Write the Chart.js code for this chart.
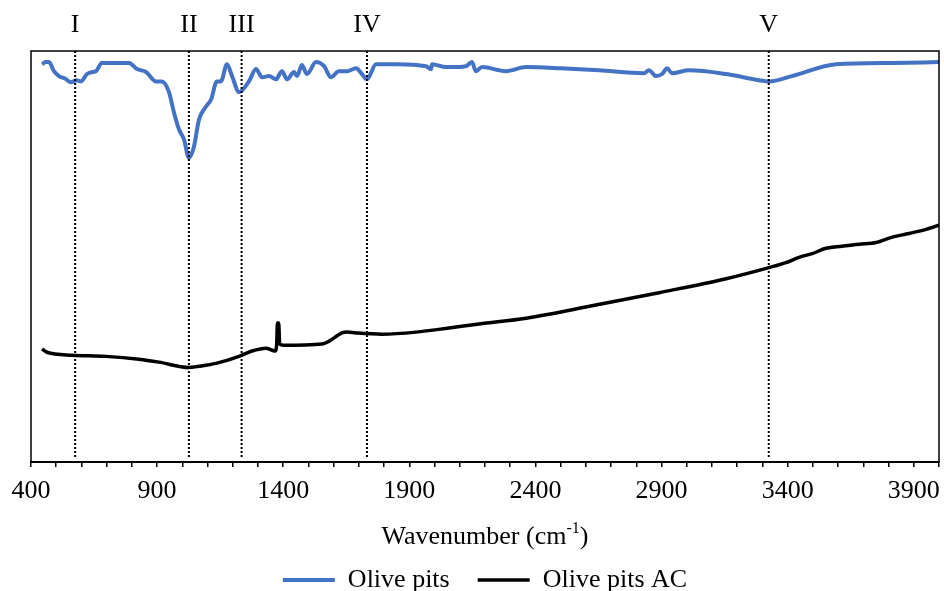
<!DOCTYPE html>
<html>
<head>
<meta charset="utf-8">
<script src="https://cdn.jsdelivr.net/npm/chart.js@4"></script>
<style>
  html, body { margin: 0; padding: 0; background: #fff; }
  #wrap { width: 944px; height: 591px; }
</style>
</head>
<body>
<div id="wrap"><canvas id="ftirChart" width="944" height="591"></canvas></div>
<script>
// Olive pits (raw) spectrum
const pitsWave = [444, 458, 471, 491, 511, 535, 559, 580, 598, 622, 645, 658, 681, 789, 820, 856, 896, 919, 947, 967, 987, 1007, 1026, 1046, 1066, 1094, 1114, 1137, 1153, 1177, 1197, 1225, 1264, 1292, 1316, 1344, 1371, 1395, 1415, 1443, 1455, 1474, 1494, 1530, 1562, 1589, 1621, 1653, 1689, 1712, 1732, 1768, 1850, 1966, 1986, 1990, 2045, 2097, 2125, 2148, 2164, 2188, 2283, 2363, 2500, 2652, 2830, 2850, 2878, 2902, 2922, 2941, 3009, 3156, 3286, 3326, 3417, 3592, 3814, 4000];
const pitsVals = [96.8, 97.3, 97.3, 95.1, 93.9, 93.3, 92.4, 92.9, 92.6, 94.4, 94.9, 95.1, 97.1, 97.1, 95.6, 94.9, 92.6, 92.6, 90.0, 85.0, 80.9, 78.4, 74.0, 76.7, 83.3, 86.5, 88.2, 92.6, 92.6, 96.8, 93.9, 90.0, 92.6, 95.6, 93.6, 93.9, 93.1, 95.1, 93.1, 94.9, 93.9, 96.6, 94.4, 97.3, 96.3, 93.6, 95.1, 95.1, 95.8, 94.4, 93.1, 96.8, 96.8, 96.3, 95.6, 96.8, 96.1, 96.1, 96.3, 97.3, 95.1, 96.1, 95.1, 96.1, 95.8, 95.3, 94.6, 95.3, 93.9, 94.4, 95.8, 94.6, 95.3, 94.4, 92.9, 92.6, 93.9, 96.8, 97.1, 97.3];

// Olive pits activated carbon spectrum
const acWave = [444, 463, 563, 697, 828, 907, 1026, 1066, 1133, 1225, 1276, 1332, 1356, 1368, 1374, 1377, 1382, 1386, 1400, 1554, 1582, 1633, 1653, 1689, 1792, 1926, 2057, 2176, 2363, 2624, 2890, 3156, 3326, 3393, 3445, 3497, 3552, 3615, 3683, 3750, 3814, 3881, 3949, 4000];
const acVals = [27.5, 26.7, 26.0, 25.7, 25.0, 24.3, 23.0, 23.3, 24.0, 25.7, 27.0, 27.7, 27.2, 27.0, 28.5, 33.8, 33.8, 28.7, 28.4, 28.7, 29.4, 31.4, 31.6, 31.4, 31.1, 31.6, 32.6, 33.6, 35.0, 38.0, 41.2, 44.6, 47.3, 48.5, 49.8, 50.7, 52.0, 52.5, 53.0, 53.4, 54.7, 55.6, 56.6, 57.6];

// marked bands
const bandPos = [575, 1026, 1235, 1732, 3325];
const bandLabels = ["I", "II", "III", "IV", "V"];

// x axis
const xMin = 400;
const xMax = 4000;
const xMajorStep = 500;
const xMinorStep = 100;

const toPoints = (xs, ys) => xs.map((x, i) => ({ x: x, y: ys[i] }));

const serif = "'Liberation Serif', 'Times New Roman', serif";
Chart.defaults.font.family = serif;
Chart.defaults.color = "#000";

const bandSets = bandPos.map((p, i) => ({
  label: bandLabels[i],
  data: [{ x: p, y: 100 }, { x: p, y: 1.2 }],
  borderColor: "#000",
  borderWidth: 2,
  borderDash: [2, 2],
  pointRadius: 0,
  order: 0,
}));

const framePlugin = {
  id: "frameAndText",
  afterDraw(chart) {
    const { ctx, chartArea, scales } = chart;
    ctx.save();
    // plot frame
    ctx.strokeStyle = "#000";
    ctx.lineWidth = 1.5;
    ctx.strokeRect(chartArea.left, chartArea.top, chartArea.right - chartArea.left, chartArea.bottom - chartArea.top);

    // band labels
    ctx.fillStyle = "#000";
    ctx.font = "26px " + serif;
    ctx.textAlign = "center";
    ctx.textBaseline = "middle";
    bandPos.forEach((p, i) => {
      ctx.fillText(bandLabels[i], scales.x.getPixelForValue(p), 25);
    });

    // axis title with superscript
    const cx = (chartArea.left + chartArea.right) / 2;
    const cy = 537;
    const a = "Wavenumber (cm";
    const sup = "-1";
    const b = ")";
    ctx.font = "26px " + serif;
    const wa = ctx.measureText(a).width;
    const wb = ctx.measureText(b).width;
    ctx.font = "16px " + serif;
    const ws = ctx.measureText(sup).width;
    let x0 = cx - (wa + ws + wb) / 2;
    ctx.textAlign = "left";
    ctx.font = "26px " + serif;
    ctx.fillText(a, x0, cy);
    ctx.font = "16px " + serif;
    ctx.fillText(sup, x0 + wa, cy - 8);
    ctx.font = "26px " + serif;
    ctx.fillText(b, x0 + wa + ws, cy);
    ctx.restore();
  },
};

new Chart(document.getElementById("ftirChart"), {
  type: "line",
  data: {
    datasets: [
      {
        label: "Olive pits",
        data: toPoints(pitsWave, pitsVals),
        borderColor: "#4472C4",
        backgroundColor: "#4472C4",
        borderWidth: 4,
        pointRadius: 0,
        cubicInterpolationMode: "monotone",
        order: 1,
      },
      {
        label: "Olive pits AC",
        data: toPoints(acWave, acVals),
        borderColor: "#000",
        backgroundColor: "#000",
        borderWidth: 3.5,
        pointRadius: 0,
        cubicInterpolationMode: "monotone",
        order: 1,
      },
      ...bandSets,
    ],
  },
  options: {
    responsive: false,
    animation: false,
    layout: { padding: { top: 51, left: 31, right: 5, bottom: -12 } },
    scales: {
      x: {
        type: "linear",
        min: xMin,
        max: xMax,
        afterFit(scale) { scale.height = 77; },
        ticks: {
          stepSize: xMinorStep,
          autoSkip: false,
          maxRotation: 0,
          padding: 5,
          font: { size: 26, lineHeight: 1.45 },
          color: "#000",
          callback: (v) => ((v - xMin) % xMajorStep === 0 && v < xMax ? String(v) : ""),
        },
        grid: { display: true, drawOnChartArea: false, drawTicks: true, tickLength: 5, color: "#000", lineWidth: 1.5 },
        border: { display: true, color: "#000", width: 2 },
      },
      y: { display: false, min: 0, max: 100 },
    },
    plugins: {
      legend: {
        position: "bottom",
        labels: {
          usePointStyle: true,
          pointStyle: "line",
          pointStyleWidth: 52,
          padding: 28,
          color: "#000",
          font: { size: 26 },
          filter: (item) => item.datasetIndex < 2,
        },
      },
      tooltip: { enabled: false },
    },
  },
  plugins: [framePlugin],
});
</script>
</body>
</html>
